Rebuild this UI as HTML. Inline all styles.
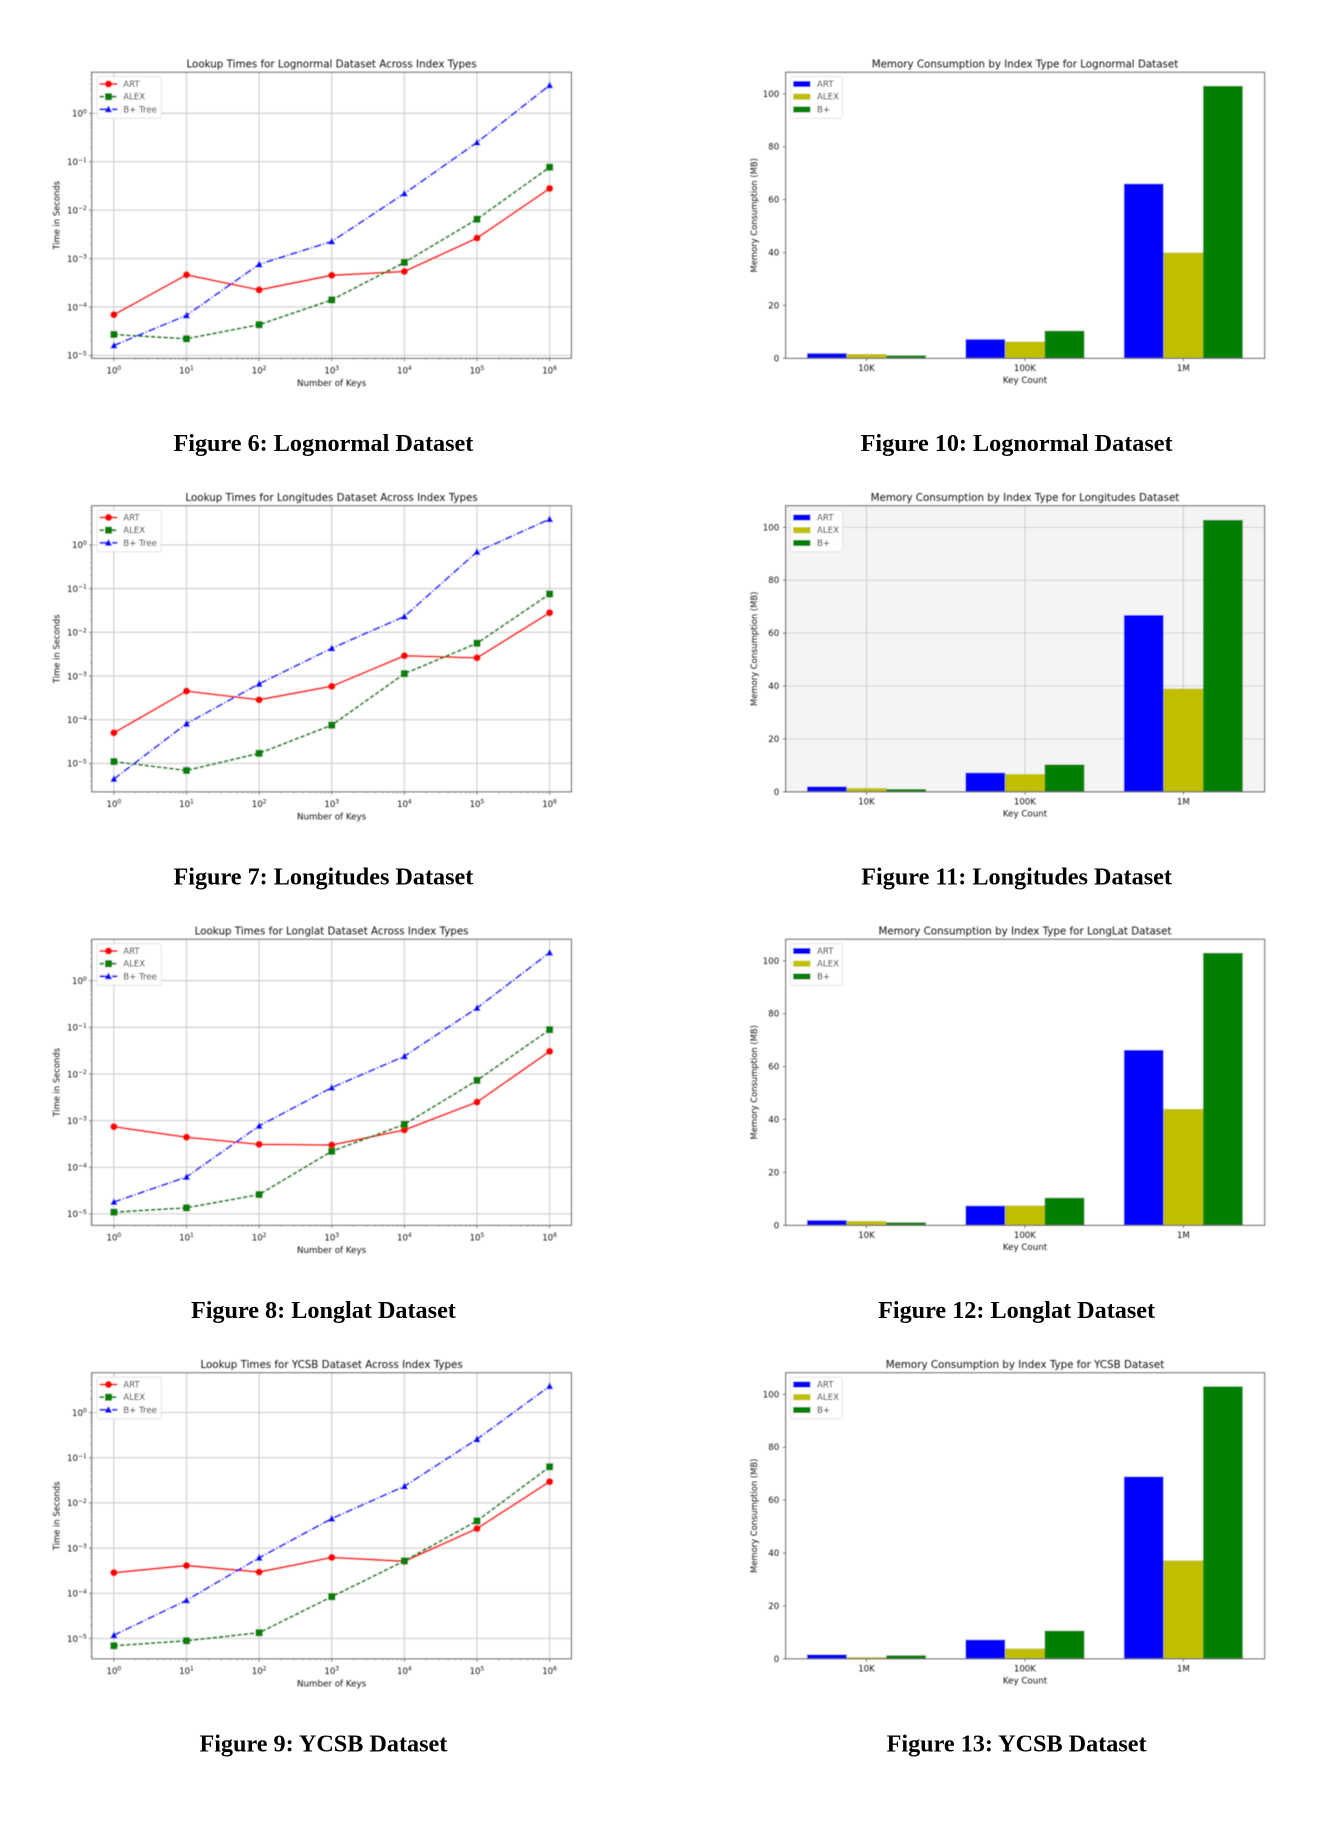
<!DOCTYPE html>
<html lang="en">
<head>
<meta charset="utf-8">
<title>Lookup Times and Memory Consumption Figures</title>
<style>
  html, body { margin: 0; padding: 0; background: #fff; width: 1342px; height: 1832px; overflow: hidden; }
  svg { display: block; }
  text { font-family: "DejaVu Sans", "Liberation Sans", sans-serif; fill: #111; }
  .title { font-size: 10.3px; text-anchor: middle; }
  .axis-label { font-size: 8.7px; text-anchor: middle; }
  .axis-label.rotated { font-size: 8.4px; }
  .legend-text { font-size: 8.6px; fill: #000; }
  .caption { font-family: "Liberation Serif", serif; font-weight: bold; font-size: 24.2px; text-anchor: middle; fill: #000; }
  .legend-box { fill: #fff; fill-opacity: .85; stroke: #ddd; stroke-width: .8; }
</style>
</head>
<body>
<svg xmlns="http://www.w3.org/2000/svg" width="1342" height="1832" viewBox="0 0 1342 1832">
  <defs>
    <filter id="soft" x="-5%" y="-5%" width="110%" height="110%"><feGaussianBlur stdDeviation="0.42"/></filter>
    <g id="lookup-legend">
      <rect class="legend-box" x="97" y="76.7" width="64.4" height="41.6" rx="2"/>
      <line x1="99.6" x2="117.5" y1="84" y2="84" stroke="#ff0000" stroke-width="1.8"/>
      <circle cx="108.5" cy="84" r="3.6" fill="#ff0000"/>
      <line x1="99.6" x2="117.5" y1="96.7" y2="96.7" stroke="#008000" stroke-width="1.8" stroke-dasharray="4.3 1.9"/>
      <rect x="105" y="93.2" width="7" height="7" fill="#008000"/>
      <line x1="99.6" x2="117.5" y1="109.3" y2="109.3" stroke="#0000ff" stroke-width="1.8" stroke-dasharray="7.5 1.9 1.2 1.9"/>
      <polygon points="108.5,105.4 104.9,112.3 112.1,112.3" fill="#0000ff"/>
    </g>
    <g id="memory-legend">
      <rect class="legend-box" x="790.4" y="76.7" width="52.1" height="41.6" rx="2"/>
      <rect x="793.2" y="81" width="17.2" height="6" fill="#0000ff"/>
      <rect x="793.2" y="93.7" width="17.2" height="6" fill="#bfbf00"/>
      <rect x="793.2" y="106.5" width="17.2" height="6" fill="#008000"/>
    </g>
  </defs>

  <!-- Lookup charts -->
  <g id="lookup-lognormal" transform="translate(0,0)">
    <g filter="url(#soft)">
      <g class="marks"></g>
      <text class="title" x="331.6" y="67.5">Lookup Times for Lognormal Dataset Across Index Types</text>
      <text class="axis-label" x="331.6" y="386">Number of Keys</text>
      <text class="axis-label rotated" transform="translate(59.5,215.3) rotate(-90)">Time in Seconds</text>
      <g><use href="#lookup-legend"/>
        <text class="legend-text" x="123.2" y="87">ART</text>
        <text class="legend-text" x="123.2" y="99.7">ALEX</text>
        <text class="legend-text" x="123.2" y="112.3">B+ Tree</text>
      </g>
    </g>
    <text class="caption" x="323.4" y="451">Figure 6: Lognormal Dataset</text>
  </g>

  <g id="lookup-longitudes" transform="translate(0,433.5)">
    <g filter="url(#soft)">
      <g class="marks"></g>
      <text class="title" x="331.6" y="67.5">Lookup Times for Longitudes Dataset Across Index Types</text>
      <text class="axis-label" x="331.6" y="386">Number of Keys</text>
      <text class="axis-label rotated" transform="translate(59.5,215.3) rotate(-90)">Time in Seconds</text>
      <g><use href="#lookup-legend"/>
        <text class="legend-text" x="123.2" y="87">ART</text>
        <text class="legend-text" x="123.2" y="99.7">ALEX</text>
        <text class="legend-text" x="123.2" y="112.3">B+ Tree</text>
      </g>
    </g>
    <text class="caption" x="323.4" y="451">Figure 7: Longitudes Dataset</text>
  </g>

  <g id="lookup-longlat" transform="translate(0,867)">
    <g filter="url(#soft)">
      <g class="marks"></g>
      <text class="title" x="331.6" y="67.5">Lookup Times for Longlat Dataset Across Index Types</text>
      <text class="axis-label" x="331.6" y="386">Number of Keys</text>
      <text class="axis-label rotated" transform="translate(59.5,215.3) rotate(-90)">Time in Seconds</text>
      <g><use href="#lookup-legend"/>
        <text class="legend-text" x="123.2" y="87">ART</text>
        <text class="legend-text" x="123.2" y="99.7">ALEX</text>
        <text class="legend-text" x="123.2" y="112.3">B+ Tree</text>
      </g>
    </g>
    <text class="caption" x="323.4" y="451">Figure 8: Longlat Dataset</text>
  </g>

  <g id="lookup-ycsb" transform="translate(0,1300.5)">
    <g filter="url(#soft)">
      <g class="marks"></g>
      <text class="title" x="331.6" y="67.5">Lookup Times for YCSB Dataset Across Index Types</text>
      <text class="axis-label" x="331.6" y="386">Number of Keys</text>
      <text class="axis-label rotated" transform="translate(59.5,215.3) rotate(-90)">Time in Seconds</text>
      <g><use href="#lookup-legend"/>
        <text class="legend-text" x="123.2" y="87">ART</text>
        <text class="legend-text" x="123.2" y="99.7">ALEX</text>
        <text class="legend-text" x="123.2" y="112.3">B+ Tree</text>
      </g>
    </g>
    <text class="caption" x="323.4" y="451">Figure 9: YCSB Dataset</text>
  </g>

  <!-- Memory charts -->
  <g id="memory-lognormal" transform="translate(0,0)">
    <g filter="url(#soft)">
      <g class="marks"></g>
      <text class="title" x="1025" y="67.5">Memory Consumption by Index Type for Lognormal Dataset</text>
      <text class="axis-label" x="1025" y="383">Key Count</text>
      <text class="axis-label rotated" transform="translate(757,215.3) rotate(-90)">Memory Consumption (MB)</text>
      <g><use href="#memory-legend"/>
        <text class="legend-text" x="817" y="87">ART</text>
        <text class="legend-text" x="817" y="99.7">ALEX</text>
        <text class="legend-text" x="817" y="112.3">B+</text>
      </g>
    </g>
    <text class="caption" x="1016.6" y="451">Figure 10: Lognormal Dataset</text>
  </g>

  <g id="memory-longitudes" transform="translate(0,433.5)">
    <g filter="url(#soft)">
      <g class="marks"></g>
      <text class="title" x="1025" y="67.5">Memory Consumption by Index Type for Longitudes Dataset</text>
      <text class="axis-label" x="1025" y="383">Key Count</text>
      <text class="axis-label rotated" transform="translate(757,215.3) rotate(-90)">Memory Consumption (MB)</text>
      <g><use href="#memory-legend"/>
        <text class="legend-text" x="817" y="87">ART</text>
        <text class="legend-text" x="817" y="99.7">ALEX</text>
        <text class="legend-text" x="817" y="112.3">B+</text>
      </g>
    </g>
    <text class="caption" x="1016.6" y="451">Figure 11: Longitudes Dataset</text>
  </g>

  <g id="memory-longlat" transform="translate(0,867)">
    <g filter="url(#soft)">
      <g class="marks"></g>
      <text class="title" x="1025" y="67.5">Memory Consumption by Index Type for LongLat Dataset</text>
      <text class="axis-label" x="1025" y="383">Key Count</text>
      <text class="axis-label rotated" transform="translate(757,215.3) rotate(-90)">Memory Consumption (MB)</text>
      <g><use href="#memory-legend"/>
        <text class="legend-text" x="817" y="87">ART</text>
        <text class="legend-text" x="817" y="99.7">ALEX</text>
        <text class="legend-text" x="817" y="112.3">B+</text>
      </g>
    </g>
    <text class="caption" x="1016.6" y="451">Figure 12: Longlat Dataset</text>
  </g>

  <g id="memory-ycsb" transform="translate(0,1300.5)">
    <g filter="url(#soft)">
      <g class="marks"></g>
      <text class="title" x="1025" y="67.5">Memory Consumption by Index Type for YCSB Dataset</text>
      <text class="axis-label" x="1025" y="383">Key Count</text>
      <text class="axis-label rotated" transform="translate(757,215.3) rotate(-90)">Memory Consumption (MB)</text>
      <g><use href="#memory-legend"/>
        <text class="legend-text" x="817" y="87">ART</text>
        <text class="legend-text" x="817" y="99.7">ALEX</text>
        <text class="legend-text" x="817" y="112.3">B+</text>
      </g>
    </g>
    <text class="caption" x="1016.6" y="451">Figure 13: YCSB Dataset</text>
  </g>
</svg>

<script>
// ---- Lookup chart data (seconds) ----
const keyCounts = [1, 10, 100, 1000, 10000, 100000, 1000000];
const lookupExponents = [0, 1, 2, 3, 4, 5, 6];

const lognormalArtTimes  = [6.9e-5, 4.6e-4, 2.25e-4, 4.5e-4, 5.4e-4, 2.65e-3, 2.8e-2];
const lognormalAlexTimes = [2.7e-5, 2.2e-5, 4.3e-5, 1.4e-4, 8.3e-4, 6.5e-3, 7.7e-2];
const lognormalBTimes    = [1.6e-5, 6.7e-5, 7.6e-4, 2.25e-3, 2.2e-2, 0.25, 3.8];
const lognormalTimeLimits = [8.7e-6, 7.03];

const longitudesArtTimes  = [5.0e-5, 4.5e-4, 2.85e-4, 5.8e-4, 2.9e-3, 2.6e-3, 2.8e-2];
const longitudesAlexTimes = [1.1e-5, 6.9e-6, 1.7e-5, 7.5e-5, 1.13e-3, 5.6e-3, 7.5e-2];
const longitudesBTimes    = [4.4e-6, 8.1e-5, 6.6e-4, 4.3e-3, 2.3e-2, 0.69, 3.87];
const longitudesTimeLimits = [2.24e-6, 7.82];

const longlatArtTimes  = [7.4e-4, 4.4e-4, 3.1e-4, 3.0e-4, 6.3e-4, 2.5e-3, 3.05e-2];
const longlatAlexTimes = [1.09e-5, 1.35e-5, 2.6e-5, 2.2e-4, 8.3e-4, 7.3e-3, 8.9e-2];
const longlatBTimes    = [1.8e-5, 6.2e-5, 7.7e-4, 5.1e-3, 2.4e-2, 0.26, 4.0];
const longlatTimeLimits = [5.7e-6, 7.71];

const ycsbArtTimes  = [2.85e-4, 4.1e-4, 2.95e-4, 6.2e-4, 5.1e-4, 2.7e-3, 2.95e-2];
const ycsbAlexTimes = [6.9e-6, 8.9e-6, 1.34e-5, 8.4e-5, 5.2e-4, 4.0e-3, 6.3e-2];
const ycsbBTimes    = [1.18e-5, 7.0e-5, 6.1e-4, 4.5e-3, 2.33e-2, 0.257, 3.83];
const ycsbTimeLimits = [3.55e-6, 7.57];

const timeTickExponents = [-5, -4, -3, -2, -1, 0];

// ---- Memory chart data (MB) ----
const keyCategories = ['10K', '100K', '1M'];
const memoryTicks = [0, 20, 40, 60, 80, 100];
const memoryMax = [108.15];

const lognormalArtMemory  = [1.9, 7.2, 66.0];
const lognormalAlexMemory = [1.6, 6.3, 40.0];
const lognormalBMemory    = [1.1, 10.4, 103.0];

const longitudesArtMemory  = [2.0, 7.2, 66.8];
const longitudesAlexMemory = [1.4, 6.7, 39.0];
const longitudesBMemory    = [1.0, 10.3, 102.8];

const longlatArtMemory  = [1.9, 7.4, 66.3];
const longlatAlexMemory = [1.6, 7.5, 44.0];
const longlatBMemory    = [1.1, 10.4, 103.0];

const ycsbArtMemory  = [1.6, 7.2, 68.9];
const ycsbAlexMemory = [0.6, 3.9, 37.2];
const ycsbBMemory    = [1.3, 10.6, 103.0];

// ---- Layout ----
const NS = 'http://www.w3.org/2000/svg';
const PLOT_TOP = 72.3, PLOT_BOTTOM = 358.3;
const LOOKUP_LEFT = 91.8, LOOKUP_RIGHT = 571.4;
const MEMORY_LEFT = 785.7, MEMORY_RIGHT = 1264.6;
const LOG_X_MIN = -0.304, LOG_X_MAX = 6.3;
const CAT_MIN = -0.51, CAT_MAX = 2.513;
const BAR_WIDTH = 0.25;
const SPINE = '#666';

function make(parent, tag, attrs, text) {
  const el = document.createElementNS(NS, tag);
  for (const k in attrs) el.setAttribute(k, attrs[k]);
  if (text !== undefined) el.textContent = text;
  parent.appendChild(el);
  return el;
}

// axis functions
function xLog(v) {
  return LOOKUP_LEFT + (Math.log10(v) - LOG_X_MIN) / (LOG_X_MAX - LOG_X_MIN) * (LOOKUP_RIGHT - LOOKUP_LEFT);
}
function yLog(v, limits) {
  const lo = Math.log10(limits[0]), hi = Math.log10(limits[1]);
  return PLOT_BOTTOM - (Math.log10(v) - lo) / (hi - lo) * (PLOT_BOTTOM - PLOT_TOP);
}
function xCat(i) {
  return MEMORY_LEFT + (i - CAT_MIN) / (CAT_MAX - CAT_MIN) * (MEMORY_RIGHT - MEMORY_LEFT);
}
function yMem(v) {
  return PLOT_BOTTOM - v / memoryMax[0] * (PLOT_BOTTOM - PLOT_TOP);
}

function powerLabel(parent, x, y, anchor, exp, name) {
  const t = make(parent, 'text', { x: x, y: y, 'text-anchor': anchor, 'font-size': 8.6 });
  
  
  make(t, 'tspan', {}, '10');
  make(t, 'tspan', { dy: -3.2, 'font-size': 6 }, String(exp).replace('-', '\u2212'));
  return t;
}

function drawSeries(g, xs, ys, limits, color, dash, shape, name) {
  const pts = ys.map((v, i) => xLog(xs[i]).toFixed(2) + ',' + yLog(v, limits).toFixed(2)).join(' ');
  const line = make(g, 'polyline', { points: pts, fill: 'none', stroke: color, 'stroke-width': 1.8, 'stroke-dasharray': dash });
  
  
  ys.forEach((v, i) => {
    const x = xLog(xs[i]), y = yLog(v, limits);
    let m;
    if (shape === 'circle') m = make(g, 'circle', { cx: x, cy: y, r: 3.6, fill: color });
    if (shape === 'square') m = make(g, 'rect', { x: x - 3.5, y: y - 3.5, width: 7, height: 7, fill: color });
    if (shape === 'triangle') m = make(g, 'polygon', { points: x + ',' + (y - 3.9) + ' ' + (x - 3.6) + ',' + (y + 3) + ' ' + (x + 3.6) + ',' + (y + 3), fill: color });
    
    
  });
}

function drawLookup(id, art, alex, bplus, limits) {
  const g = document.querySelector('#' + id + ' .marks');
  make(g, 'rect', { x: LOOKUP_LEFT, y: PLOT_TOP, width: LOOKUP_RIGHT - LOOKUP_LEFT, height: PLOT_BOTTOM - PLOT_TOP, fill: '#fff' });
  lookupExponents.forEach((e, i) => {
    const x = xLog(keyCounts[i]);
    const gl = make(g, 'line', { x1: x, x2: x, y1: PLOT_TOP, y2: PLOT_BOTTOM, stroke: '#d2d2d2', 'stroke-width': 1.3 });
    
    
    make(g, 'line', { x1: x, x2: x, y1: PLOT_BOTTOM, y2: PLOT_BOTTOM + 2.8, stroke: '#444', 'stroke-width': .7 });
    powerLabel(g, x, PLOT_BOTTOM + 15, 'middle', e, 'x-tick-label');
    if (i < lookupExponents.length - 1) {
      for (let k = 2; k < 10; k++) {
        const mx = xLog(keyCounts[i] * k);
        make(g, 'line', { x1: mx, x2: mx, y1: PLOT_BOTTOM, y2: PLOT_BOTTOM + 1.6, stroke: '#666', 'stroke-width': .5 });
      }
    }
  });
  for (let e = -7; e <= 1; e++) {
    for (let k = 2; k < 10; k++) {
      const v = k * Math.pow(10, e);
      if (v < limits[0] || v > limits[1]) continue;
      const my = yLog(v, limits);
      make(g, 'line', { x1: LOOKUP_LEFT - 1.6, x2: LOOKUP_LEFT, y1: my, y2: my, stroke: '#666', 'stroke-width': .5 });
    }
  }
  timeTickExponents.forEach(e => {
    const y = yLog(Math.pow(10, e), limits);
    const gl = make(g, 'line', { x1: LOOKUP_LEFT, x2: LOOKUP_RIGHT, y1: y, y2: y, stroke: '#d2d2d2', 'stroke-width': 1.3 });
    
    
    make(g, 'line', { x1: LOOKUP_LEFT - 2.8, x2: LOOKUP_LEFT, y1: y, y2: y, stroke: '#444', 'stroke-width': .7 });
    powerLabel(g, LOOKUP_LEFT - 5, y + 3.3, 'end', e, 'y-tick-label');
  });
  drawSeries(g, keyCounts, art, limits, '#ff0000', 'none', 'circle', 'art');
  drawSeries(g, keyCounts, alex, limits, '#008000', '4.3 1.9', 'square', 'alex');
  drawSeries(g, keyCounts, bplus, limits, '#0000ff', '7.5 1.9 1.2 1.9', 'triangle', 'bplus');
  const frame = make(g, 'rect', { x: LOOKUP_LEFT, y: PLOT_TOP, width: LOOKUP_RIGHT - LOOKUP_LEFT, height: PLOT_BOTTOM - PLOT_TOP, fill: 'none', stroke: SPINE, 'stroke-width': 1.1 });
  
  
}

function drawMemory(id, art, alex, bplus, shaded) {
  const g = document.querySelector('#' + id + ' .marks');
  make(g, 'rect', { x: MEMORY_LEFT, y: PLOT_TOP, width: MEMORY_RIGHT - MEMORY_LEFT, height: PLOT_BOTTOM - PLOT_TOP, fill: shaded ? '#f4f4f4' : '#fff' });
  if (shaded) {
    keyCategories.forEach((c, i) => {
      const gl = make(g, 'line', { x1: xCat(i), x2: xCat(i), y1: PLOT_TOP, y2: PLOT_BOTTOM, stroke: '#999', 'stroke-width': .8, 'stroke-dasharray': '1.2 .8' });
      
      
    });
    memoryTicks.forEach(v => {
      const gl = make(g, 'line', { x1: MEMORY_LEFT, x2: MEMORY_RIGHT, y1: yMem(v), y2: yMem(v), stroke: '#aaa', 'stroke-width': .8, 'stroke-dasharray': '1.2 .8' });
      
      
    });
  }
  [[art, '#0000ff', -1, 'art'], [alex, '#bfbf00', 0, 'alex'], [bplus, '#008000', 1, 'bplus']].forEach(s => {
    s[0].forEach((v, i) => {
      const left = xCat(i + (s[2] - .5) * BAR_WIDTH), right = xCat(i + (s[2] + .5) * BAR_WIDTH);
      const bar = make(g, 'rect', { x: left, y: yMem(v), width: right - left, height: PLOT_BOTTOM - yMem(v), fill: s[1] });
      
      
    });
  });
  memoryTicks.forEach(v => {
    make(g, 'line', { x1: MEMORY_LEFT - 2.8, x2: MEMORY_LEFT, y1: yMem(v), y2: yMem(v), stroke: '#444', 'stroke-width': .7 });
    const t = make(g, 'text', { x: MEMORY_LEFT - 6.5, y: yMem(v) + 3, 'text-anchor': 'end', 'font-size': 8.6 }, String(v));
    
    
  });
  keyCategories.forEach((c, i) => {
    make(g, 'line', { x1: xCat(i), x2: xCat(i), y1: PLOT_BOTTOM, y2: PLOT_BOTTOM + 2.8, stroke: '#444', 'stroke-width': .7 });
    const t = make(g, 'text', { x: xCat(i), y: PLOT_BOTTOM + 12.8, 'text-anchor': 'middle', 'font-size': 8.6 }, c);
    
    
  });
  const frame = make(g, 'rect', { x: MEMORY_LEFT, y: PLOT_TOP, width: MEMORY_RIGHT - MEMORY_LEFT, height: PLOT_BOTTOM - PLOT_TOP, fill: 'none', stroke: SPINE, 'stroke-width': 1.1 });
  
  
}

drawLookup('lookup-lognormal', lognormalArtTimes, lognormalAlexTimes, lognormalBTimes, lognormalTimeLimits);
drawLookup('lookup-longitudes', longitudesArtTimes, longitudesAlexTimes, longitudesBTimes, longitudesTimeLimits);
drawLookup('lookup-longlat', longlatArtTimes, longlatAlexTimes, longlatBTimes, longlatTimeLimits);
drawLookup('lookup-ycsb', ycsbArtTimes, ycsbAlexTimes, ycsbBTimes, ycsbTimeLimits);

drawMemory('memory-lognormal', lognormalArtMemory, lognormalAlexMemory, lognormalBMemory, false);
drawMemory('memory-longitudes', longitudesArtMemory, longitudesAlexMemory, longitudesBMemory, true);
drawMemory('memory-longlat', longlatArtMemory, longlatAlexMemory, longlatBMemory, false);
drawMemory('memory-ycsb', ycsbArtMemory, ycsbAlexMemory, ycsbBMemory, false);
</script>
</body>
</html>
